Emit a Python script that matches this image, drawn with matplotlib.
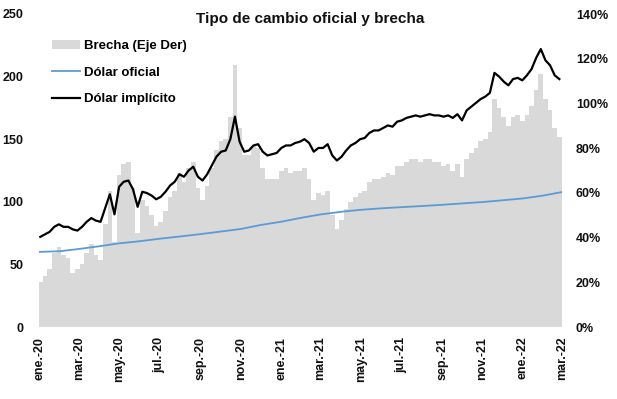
import numpy as np
import pandas as pd
import matplotlib
matplotlib.use('Agg')
import matplotlib.pyplot as plt
from matplotlib.patches import Patch
from matplotlib.lines import Line2D
from matplotlib.ticker import FuncFormatter

plt.rcParams['font.family'] = ['Liberation Sans', 'DejaVu Sans']
plt.rcParams['font.weight'] = 'bold'

# weekly dates (Fridays)
fechas = pd.date_range('2020-01-03', '2022-02-25', freq='W-FRI')

# Dolar implicito (CCL), eje izquierdo
implicito = [72, 74, 76, 80, 82, 80, 80, 78, 77, 80, 84, 87, 85, 84, 95, 106, 90,
             112, 116, 117, 110, 96, 108, 107, 105, 102, 104, 108, 113, 116, 122,
             120, 125, 128, 120, 117, 122, 129, 136, 140, 141, 150, 168, 148, 140,
             141, 145, 146, 140, 137, 138, 139, 143, 145, 145, 147, 148, 150, 147,
             140, 143, 143, 146, 137, 133, 136, 141, 145, 147, 150, 151, 155, 157,
             157, 159, 161, 160, 164, 165, 167, 168, 169, 168, 169, 170, 169, 169,
             168, 169, 167, 170, 165, 173, 176, 179, 182, 184, 187, 203, 200, 196,
             193, 198, 199, 197, 201, 206, 215, 222, 213, 209, 201, 198]

# Brecha en %, eje derecho
brecha = [20, 23, 26, 33, 36, 32, 31, 24, 26, 28, 33, 37, 32, 30, 46, 61, 38,
          68, 73, 74, 62, 42, 57, 54, 50, 45, 47, 52, 58, 61, 69, 65, 71, 74,
          62, 57, 63, 71, 79, 83, 84, 94, 117, 89, 77, 77, 81, 80, 71, 66, 66,
          66, 70, 71, 69, 70, 70, 71, 66, 57, 60, 59, 61, 50, 44, 48, 53, 56,
          58, 60, 61, 65, 66, 66, 67, 69, 68, 72, 72, 74, 75, 75, 74, 75, 75,
          74, 74, 72, 73, 70, 73, 67, 75, 78, 80, 83, 84, 87, 102, 98, 94, 90,
          94, 95, 92, 95, 99, 106, 113, 102, 97, 89, 85]

# Dolar oficial (mensual)
fechas_of = pd.date_range('2020-01-01', '2022-03-01', freq='MS')
oficial = [60.0, 60.5, 62.3, 64.5, 66.8, 68.5, 70.5, 72.3, 74.2, 76.2, 78.3,
           81.5, 84.1, 87.3, 89.9, 92.0, 93.6, 94.8, 95.7, 96.6, 97.6, 98.7,
           99.8, 101.2, 102.7, 105.0, 107.8]

tick_fechas = pd.date_range('2020-01-01', '2022-03-01', freq='2MS')
tick_labels = ['ene.-20', 'mar.-20', 'may.-20', 'jul.-20', 'sep.-20', 'nov.-20',
               'ene.-21', 'mar.-21', 'may.-21', 'jul.-21', 'sep.-21', 'nov.-21',
               'ene.-22', 'mar.-22']

W, H = 617, 399
fig = plt.figure(figsize=(W / 100, H / 100), dpi=100)
ax = fig.add_axes([39 / W, 1 - 327 / H, 523 / W, 313 / H])
ax2 = ax.twinx()

ax2.bar(fechas, np.array(brecha) / 100, width=7, color='#d9d9d9', linewidth=0)
ax.plot(fechas_of, oficial, color='#5b9bd5', lw=1.3)
ax.plot(fechas, implicito, color='black', lw=1.6)

ax.set_zorder(ax2.get_zorder() + 1)
ax.patch.set_visible(False)

ax.set_xlim(pd.Timestamp('2020-01-01'), pd.Timestamp('2022-03-01'))
ax.set_ylim(0, 250)
ax.set_yticks(range(0, 251, 50))
ax2.set_ylim(0, 1.4)
ax2.set_yticks(np.arange(0, 1.41, 0.2))
ax2.yaxis.set_major_formatter(FuncFormatter(lambda v, p: f'{v * 100:.0f}%'))

ax.set_xticks(tick_fechas)
ax.set_xticklabels(tick_labels, rotation=90)

for a in (ax, ax2):
    for s in a.spines.values():
        s.set_visible(False)
    a.tick_params(length=0, labelsize=9, colors='#111111', pad=10)
ax.tick_params(axis='y', pad=11)
ax.tick_params(axis='x', pad=7)

fig.text(0.503, 0.953, 'Tipo de cambio oficial y brecha', ha='center', va='center',
         fontsize=11, color='#111111', fontweight='bold')

handles = [Patch(facecolor='#d9d9d9', edgecolor='none'),
           Line2D([], [], color='#5b9bd5', lw=1.3),
           Line2D([], [], color='black', lw=1.6)]
ax.legend(handles, ['Brecha (Eje Der)', 'Dólar oficial', 'Dólar implícito'],
          loc='upper left', bbox_to_anchor=(52 / W, 1 - 40 / H),
          bbox_transform=fig.transFigure, frameon=False, fontsize=9.5,
          handlelength=2.1, handleheight=0.6, handletextpad=0.35,
          labelspacing=1.1, borderpad=0, borderaxespad=0)

fig.savefig('out.png', dpi=100)
